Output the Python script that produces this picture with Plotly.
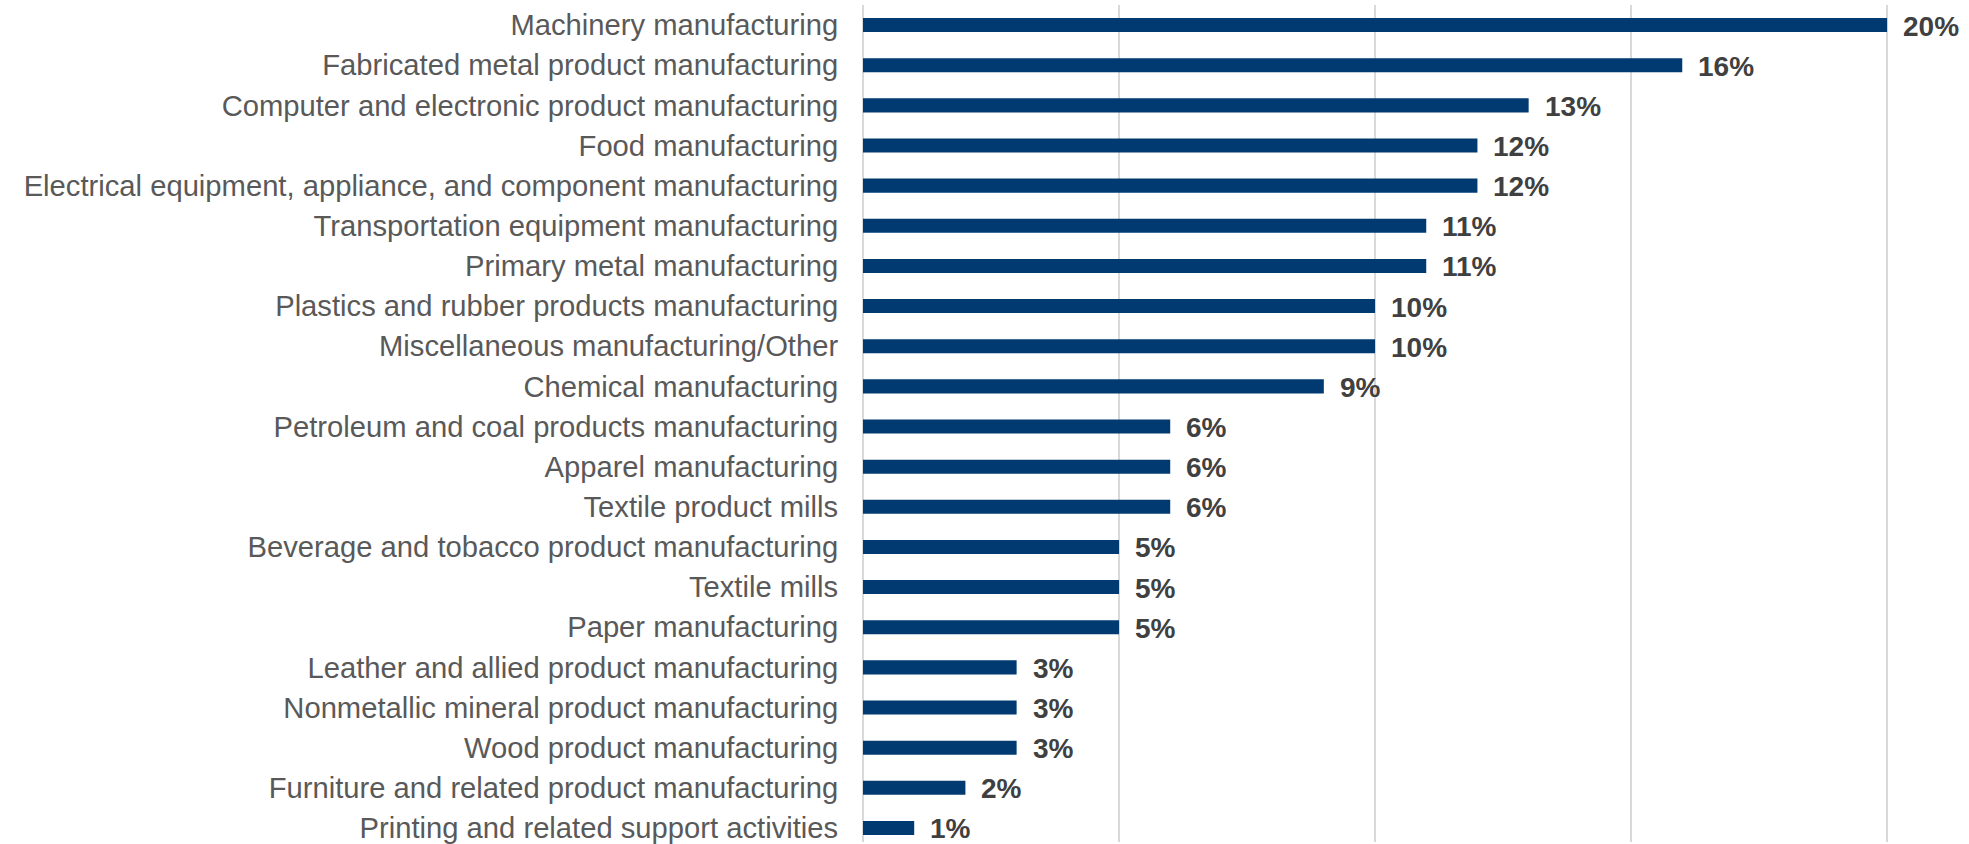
import plotly.graph_objects as go

categories = [
    "Machinery manufacturing",
    "Fabricated metal product manufacturing",
    "Computer and electronic product manufacturing",
    "Food manufacturing",
    "Electrical equipment, appliance, and component manufacturing",
    "Transportation equipment manufacturing",
    "Primary metal manufacturing",
    "Plastics and rubber products manufacturing",
    "Miscellaneous manufacturing/Other",
    "Chemical manufacturing",
    "Petroleum and coal products manufacturing",
    "Apparel manufacturing",
    "Textile product mills",
    "Beverage and tobacco product manufacturing",
    "Textile mills",
    "Paper manufacturing",
    "Leather and allied product manufacturing",
    "Nonmetallic mineral product manufacturing",
    "Wood product manufacturing",
    "Furniture and related product manufacturing",
    "Printing and related support activities",
]
values = [0.20, 0.16, 0.13, 0.12, 0.12, 0.11, 0.11, 0.10, 0.10, 0.09,
          0.06, 0.06, 0.06, 0.05, 0.05, 0.05, 0.03, 0.03, 0.03, 0.02, 0.01]
value_labels = [f"{round(v*100)}%" for v in values]

W, H = 1969, 844
left = 863
top = 5

fig = go.Figure()
fig.add_trace(go.Bar(
    x=values, y=categories, orientation="h",
    marker=dict(color="#003A70", line=dict(width=0)),
    width=0.35,
    hoverinfo="skip",
))

for c, v, t in zip(categories, values, value_labels):
    fig.add_annotation(x=v, y=c, text=t, showarrow=False, xanchor="left",
                       yanchor="middle", xshift=14, yshift=-1,
                       font=dict(family="Liberation Sans, Arial", size=28,
                                 color="#404040", weight="bold"))

fig.update_layout(
    width=W, height=H,
    margin=dict(l=left, r=0, t=top, b=0, pad=0),
    paper_bgcolor="white", plot_bgcolor="white",
    showlegend=False,
    bargap=0.65,
    font=dict(family="Liberation Sans, Arial", size=29, color="#595959"),
)
fig.update_xaxes(
    range=[0, 0.216], dtick=0.05, tick0=0,
    showgrid=True, gridcolor="#D9D9D9", gridwidth=2,
    zeroline=True, zerolinecolor="#D9D9D9", zerolinewidth=2,
    showticklabels=False, showline=False, fixedrange=True,
)
fig.update_yaxes(
    type="category", categoryorder="array", categoryarray=categories,
    range=[20.35, -0.5],
    ticks="outside", ticklen=18, tickcolor="rgba(0,0,0,0)",
    tickfont=dict(family="Liberation Sans, Arial", size=29.2, color="#595959"),
    showgrid=False, showline=False, zeroline=False, fixedrange=True,
)

fig.write_html("out.html", config={"displayModeBar": False})
